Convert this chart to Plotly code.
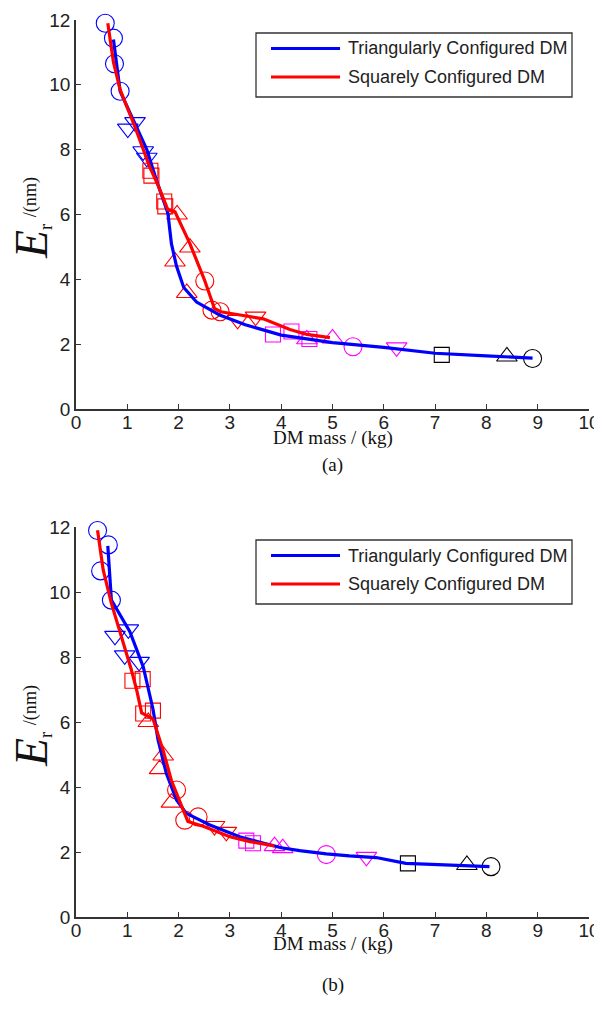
import plotly.graph_objects as go

# ---------------- data: panel (a) ----------------
a_tri_line_x = [0.73, 0.86, 1.15, 1.38, 1.57, 1.79, 1.86, 1.96, 2.1, 2.35, 2.8, 3.3, 4.0, 5.0, 6.0, 7.0, 8.0, 8.9]
a_tri_line_y = [11.4, 9.8, 8.8, 8.0, 7.05, 6.05, 5.1, 4.4, 3.75, 3.3, 2.9, 2.6, 2.28, 2.05, 1.9, 1.72, 1.64, 1.57]
a_sq_line_x = [0.62, 0.73, 0.86, 1.15, 1.44, 1.6, 1.79, 1.93, 2.22, 2.5, 2.7, 2.82, 3.2, 3.65, 4.17, 4.5, 4.95]
a_sq_line_y = [11.9, 10.7, 9.85, 8.7, 7.45, 6.9, 6.15, 6.08, 5.1, 4.0, 3.1, 3.0, 2.9, 2.78, 2.45, 2.3, 2.2]

a_blue_circ_x = [0.57, 0.73, 0.75, 0.86]
a_blue_circ_y = [11.9, 11.44, 10.65, 9.8]
a_blue_dtri_x = [1.15, 1.01, 1.31, 1.38]
a_blue_dtri_y = [8.85, 8.65, 7.95, 7.75]
a_red_sq_x = [1.45, 1.47, 1.72, 1.74]
a_red_sq_y = [7.35, 7.2, 6.4, 6.25]
a_red_tri_x = [1.97, 2.22, 1.93, 2.16]
a_red_tri_y = [6.0, 4.98, 4.55, 3.58]
a_red_circ_x = [2.51, 2.65, 2.81]
a_red_circ_y = [3.95, 3.05, 3.0]
a_red_dtri_x = [3.15, 3.5]
a_red_dtri_y = [2.75, 2.85]
a_mag_sq_x = [3.84, 4.2, 4.55]
a_mag_sq_y = [2.3, 2.39, 2.16]
a_mag_tri_x = [4.5, 5.0]
a_mag_tri_y = [2.15, 2.18]
a_mag_circ_x = [5.4]
a_mag_circ_y = [1.92]
a_mag_dtri_x = [6.25]
a_mag_dtri_y = [1.9]
a_blk_sq_x = [7.13]
a_blk_sq_y = [1.67]
a_blk_tri_x = [8.4]
a_blk_tri_y = [1.62]
a_blk_circ_x = [8.9]
a_blk_circ_y = [1.56]

# ---------------- data: panel (b) ----------------
b_tri_line_x = [0.62, 0.69, 1.05, 1.31, 1.5, 1.6, 1.76, 1.96, 2.15, 2.61, 3.19, 4.0, 4.36, 4.88, 5.33, 5.85, 6.43, 7.28, 8.06]
b_tri_line_y = [11.42, 9.75, 8.78, 7.7, 6.4, 5.45, 4.42, 3.6, 3.19, 2.83, 2.47, 2.13, 2.04, 1.94, 1.88, 1.83, 1.65, 1.6, 1.55]
b_sq_line_x = [0.42, 0.53, 0.69, 0.89, 1.08, 1.18, 1.28, 1.5, 1.7, 1.86, 2.02, 2.18, 2.48, 3.0, 3.39, 3.87]
b_sq_line_y = [11.9, 10.68, 9.65, 8.62, 7.6, 7.0, 6.28, 6.1, 5.12, 4.2, 3.6, 2.94, 2.79, 2.47, 2.32, 2.19]

b_blue_circ_x = [0.42, 0.63, 0.48, 0.69]
b_blue_circ_y = [11.89, 11.45, 10.65, 9.75]
b_blue_dtri_x = [1.02, 0.76, 0.95, 1.23]
b_blue_dtri_y = [8.85, 8.65, 8.05, 7.85]
b_red_sq_x = [1.1, 1.3, 1.31, 1.5]
b_red_sq_y = [7.27, 7.32, 6.26, 6.35]
b_red_tri_x = [1.41, 1.7, 1.63, 1.86]
b_red_tri_y = [6.0, 4.97, 4.55, 3.52]
b_red_circ_x = [1.96, 2.12, 2.38]
b_red_circ_y = [3.91, 2.98, 3.08]
b_red_dtri_x = [2.7, 2.93]
b_red_dtri_y = [2.8, 2.62]
b_mag_sq_x = [3.32, 3.45]
b_mag_sq_y = [2.35, 2.27]
b_mag_tri_x = [3.87, 4.03]
b_mag_tri_y = [2.18, 2.12]
b_mag_circ_x = [4.88]
b_mag_circ_y = [1.92]
b_mag_dtri_x = [5.66]
b_mag_dtri_y = [1.85]
b_blk_sq_x = [6.47]
b_blk_sq_y = [1.65]
b_blk_tri_x = [7.62]
b_blk_tri_y = [1.6]
b_blk_circ_x = [8.09]
b_blk_circ_y = [1.55]

x_ticks = [0, 1, 2, 3, 4, 5, 6, 7, 8, 9, 10]
y_ticks = [0, 2, 4, 6, 8, 10, 12]
legend_names = ["Triangularly Configured DM", "Squarely Configured DM"]

BLUE = "#0000ff"
RED = "#ff0000"
MAG = "#ff00ff"
BLK = "#000000"
PAGE_W, PAGE_H = 602, 1016
OFF = 8  # page body margin
W, H = PAGE_W - OFF, PAGE_H - OFF

fig = go.Figure()

def markers(xs, ys, symbol, color, size, xa, ya):
    fig.add_trace(go.Scatter(
        x=xs, y=ys, mode="markers", xaxis=xa, yaxis=ya, showlegend=False, cliponaxis=False,
        marker=dict(symbol=symbol, size=size, color=color, line=dict(color=color, width=1.1)),
        hoverinfo="skip"))

panels = [("a", "x", "y"), ("b", "x2", "y2")]
data = {
    "a": dict(tl=(a_tri_line_x, a_tri_line_y), sl=(a_sq_line_x, a_sq_line_y),
              m=[(a_blue_circ_x, a_blue_circ_y, "circle-open", BLUE, 18),
                 (a_blue_dtri_x, a_blue_dtri_y, "triangle-down-open", BLUE, 18),
                 (a_red_sq_x, a_red_sq_y, "square-open", RED, 15),
                 (a_red_tri_x, a_red_tri_y, "triangle-up-open", RED, 18),
                 (a_red_circ_x, a_red_circ_y, "circle-open", RED, 18),
                 (a_red_dtri_x, a_red_dtri_y, "triangle-down-open", RED, 18),
                 (a_mag_sq_x, a_mag_sq_y, "square-open", MAG, 15),
                 (a_mag_tri_x, a_mag_tri_y, "triangle-up-open", MAG, 18),
                 (a_mag_circ_x, a_mag_circ_y, "circle-open", MAG, 18),
                 (a_mag_dtri_x, a_mag_dtri_y, "triangle-down-open", MAG, 18),
                 (a_blk_sq_x, a_blk_sq_y, "square-open", BLK, 15),
                 (a_blk_tri_x, a_blk_tri_y, "triangle-up-open", BLK, 18),
                 (a_blk_circ_x, a_blk_circ_y, "circle-open", BLK, 18)]),
    "b": dict(tl=(b_tri_line_x, b_tri_line_y), sl=(b_sq_line_x, b_sq_line_y),
              m=[(b_blue_circ_x, b_blue_circ_y, "circle-open", BLUE, 18),
                 (b_blue_dtri_x, b_blue_dtri_y, "triangle-down-open", BLUE, 18),
                 (b_red_sq_x, b_red_sq_y, "square-open", RED, 15),
                 (b_red_tri_x, b_red_tri_y, "triangle-up-open", RED, 18),
                 (b_red_circ_x, b_red_circ_y, "circle-open", RED, 18),
                 (b_red_dtri_x, b_red_dtri_y, "triangle-down-open", RED, 18),
                 (b_mag_sq_x, b_mag_sq_y, "square-open", MAG, 15),
                 (b_mag_tri_x, b_mag_tri_y, "triangle-up-open", MAG, 18),
                 (b_mag_circ_x, b_mag_circ_y, "circle-open", MAG, 18),
                 (b_mag_dtri_x, b_mag_dtri_y, "triangle-down-open", MAG, 18),
                 (b_blk_sq_x, b_blk_sq_y, "square-open", BLK, 15),
                 (b_blk_tri_x, b_blk_tri_y, "triangle-up-open", BLK, 18),
                 (b_blk_circ_x, b_blk_circ_y, "circle-open", BLK, 18)]),
}

for key, xa, ya in panels:
    d = data[key]
    for xs, ys, sym, col, sz in d["m"]:
        markers(xs, ys, sym, col, sz, xa, ya)
    fig.add_trace(go.Scatter(x=d["tl"][0], y=d["tl"][1], mode="lines", xaxis=xa, yaxis=ya,
                             name=legend_names[0], showlegend=False, line=dict(color=BLUE, width=3.2)))
    fig.add_trace(go.Scatter(x=d["sl"][0], y=d["sl"][1], mode="lines", xaxis=xa, yaxis=ya,
                             name=legend_names[1], showlegend=False, line=dict(color=RED, width=3.2)))

def px_y(py):
    return (H - (py - OFF)) / H

def px_x(px):
    return (px - OFF) / W

xdom = [px_x(76), px_x(589)]
ydom_a = [px_y(409), px_y(20)]
ydom_b = [px_y(917), px_y(527)]

axis_common = dict(showline=True, linecolor="#333333", linewidth=1.5, ticks="inside",
                   ticklen=5, tickcolor="#333333", tickwidth=1.3, showgrid=False, zeroline=False,
                   automargin=False,
                   tickfont=dict(family="Liberation Sans, Arial", size=19, color="#222222"), mirror=False)

fig.update_layout(
    width=W, height=H, margin=dict(l=0, r=0, t=0, b=0, autoexpand=False),
    paper_bgcolor="white", plot_bgcolor="white", showlegend=False,
    xaxis=dict(domain=xdom, range=[0, 10], tickvals=x_ticks, anchor="y", ticklabelstandoff=-5, **axis_common),
    yaxis=dict(domain=ydom_a, range=[0, 12], tickvals=y_ticks, anchor="x", **axis_common),
    xaxis2=dict(domain=xdom, range=[0, 10], tickvals=x_ticks, anchor="y2", ticklabelstandoff=-5, **axis_common),
    yaxis2=dict(domain=ydom_b, range=[0, 12], tickvals=y_ticks, anchor="x2", **axis_common),
)

serif = "Liberation Serif, Times New Roman"
sans = "Liberation Sans, Arial"
ytitle = "<span style='font-size:46px'><i>E</i></span><sub>r</sub> <sup>/(nm)</sup>"

# framed key, one per panel
for off in [0, 507]:
    fig.add_shape(type="rect", xref="paper", yref="paper",
                  x0=px_x(256), x1=px_x(572), y0=px_y(97 + off), y1=px_y(33 + off),
                  line=dict(color="#333333", width=1.3), fillcolor="white", layer="above")
    for i, (name, col) in enumerate(zip(legend_names, [BLUE, RED])):
        yy = [48.5, 77][i] + off
        fig.add_shape(type="line", xref="paper", yref="paper",
                      x0=px_x(271), x1=px_x(340), y0=px_y(yy), y1=px_y(yy),
                      line=dict(color=col, width=3.2), layer="above")
        fig.add_annotation(x=px_x(346), y=px_y(yy), xref="paper", yref="paper", text=name,
                           showarrow=False, xanchor="left", yanchor="middle",
                           font=dict(family=sans, size=18, color="#222222"))

for py_title, py_xlab, py_cap, cap in [(218, 438, 465, "(a)"), (726, 944, 985, "(b)")]:
    fig.add_annotation(x=px_x(31), y=px_y(py_title), xref="paper", yref="paper", text=ytitle,
                       textangle=-90, showarrow=False, xanchor="center", yanchor="middle",
                       font=dict(family=serif, size=26, color="#111111"))
    fig.add_annotation(x=px_x((76 + 589) / 2), y=px_y(py_xlab), xref="paper", yref="paper",
                       text="DM mass / (kg)", showarrow=False, xanchor="center", yanchor="middle",
                       font=dict(family=serif, size=19, color="#111111"))
    fig.add_annotation(x=px_x((76 + 589) / 2), y=px_y(py_cap), xref="paper", yref="paper",
                       text=cap, showarrow=False, xanchor="center", yanchor="middle",
                       font=dict(family=serif, size=19, color="#111111"))

fig.write_html("out.html")
